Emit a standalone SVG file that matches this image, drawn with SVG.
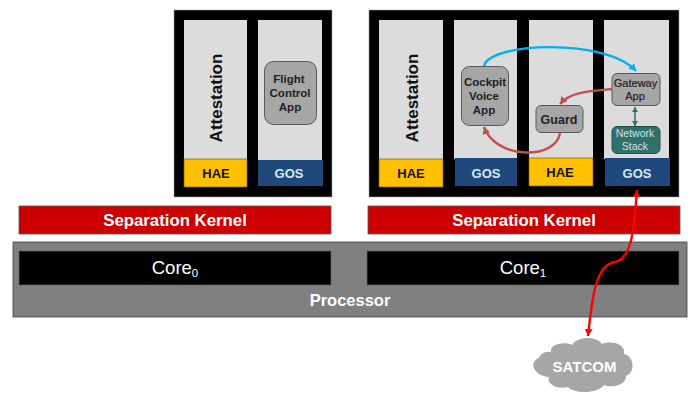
<svg xmlns="http://www.w3.org/2000/svg" width="693" height="394" viewBox="0 0 693 394">
<style>
text{font-family:"Liberation Sans",Arial,sans-serif;text-anchor:middle}
.b{font-weight:700}
.panel{fill:#000;stroke:#a6a6a6;stroke-width:.6}
.col{fill:#dcdcdc}
.hae{fill:#ffc000;stroke:#7f6000;stroke-width:.7}
.gos{fill:#1f497d}
.app{fill:#a6a6a6;stroke:#595959;stroke-width:1}
.sk{fill:#cc0000;stroke:#5a5a5a;stroke-width:.8}
.core{fill:#000;stroke:#6a6a6a;stroke-width:.6}
.c{fill:none;stroke-width:2.4}
</style>
<defs>
<marker id="ab" markerUnits="userSpaceOnUse" markerWidth="9" markerHeight="9" refX="7" refY="4" orient="auto"><path d="M0 0L7 4L0 8Z" fill="#00b0f0"/></marker>
<marker id="ar" markerUnits="userSpaceOnUse" markerWidth="9" markerHeight="9" refX="7" refY="4" orient="auto"><path d="M0 0L7 4L0 8Z" fill="#c0504d"/></marker>
<marker id="at" markerUnits="userSpaceOnUse" markerWidth="7" markerHeight="7" refX="5" refY="3" orient="auto-start-reverse"><path d="M0 0L5 3L0 6Z" fill="#31706d"/></marker>
<marker id="ad" markerUnits="userSpaceOnUse" markerWidth="9" markerHeight="9" refX="7" refY="4" orient="auto-start-reverse"><path d="M0 0L7 4L0 8Z" fill="#ff0000"/></marker>
</defs>
<g id="processor"><rect x="13" y="242" width="674" height="75" fill="#808080" stroke="#404040" stroke-width=".8"/><text class="b" x="350" y="306" font-size="16.500" fill="#fff">Processor</text></g>
<g id="core0"><rect class="core" x="19" y="251" width="312" height="34"/><text x="175" y="274" font-size="18.500" fill="#fff">Core<tspan font-size="11.500" dy="3">0</tspan></text></g>
<g id="core1"><rect class="core" x="367" y="251" width="312" height="34"/><text x="523" y="274" font-size="18.500" fill="#fff">Core<tspan font-size="11.500" dy="3">1</tspan></text></g>
<g id="kernel0"><rect class="sk" x="19" y="206" width="312" height="28"/><text class="b" x="175" y="226" font-size="16.800" fill="#fff">Separation Kernel</text></g>
<g id="kernel1"><rect class="sk" x="368" y="206" width="312" height="28"/><text class="b" x="524" y="226" font-size="16.800" fill="#fff">Separation Kernel</text></g>
<g id="partition-left">
<rect class="panel" x="174" y="10" width="158" height="187"/>
<rect class="col" x="184" y="20" width="63" height="140"/>
<rect class="col" x="258" y="20" width="64" height="141"/>
</g>
<g id="partition-right">
<rect class="panel" x="369" y="10" width="310" height="187"/>
<rect class="col" x="379" y="20" width="64" height="140"/>
<rect class="col" x="454" y="20" width="63" height="139"/>
<rect class="col" x="529" y="20" width="64" height="139"/>
<rect class="col" x="604" y="20" width="65" height="139"/>
</g>
<g id="attestation-left"><text class="b" transform="translate(222,98) rotate(-90)" font-size="17" fill="#111">Attestation</text></g>
<g id="attestation-right"><text class="b" transform="translate(418,98) rotate(-90)" font-size="17" fill="#111">Attestation</text></g>
<g id="hae-left"><rect class="hae" x="184" y="159" width="63" height="28"/><text class="b" x="216" y="178" font-size="13" fill="#111">HAE</text></g>
<g id="gos-left"><rect class="gos" x="258" y="160" width="65" height="26"/><text class="b" x="289" y="178" font-size="13" fill="#dce6f1">GOS</text></g>
<g id="hae-1"><rect class="hae" x="379" y="159" width="64" height="28"/><text class="b" x="411" y="178" font-size="13" fill="#111">HAE</text></g>
<g id="gos-1"><rect class="gos" x="455" y="158" width="62" height="28"/><text class="b" x="486" y="178" font-size="13" fill="#dce6f1">GOS</text></g>
<g id="hae-2"><rect class="hae" x="529" y="158" width="64" height="28"/><text class="b" x="560" y="177" font-size="13" fill="#111">HAE</text></g>
<g id="gos-2"><rect class="gos" x="605" y="158" width="65" height="28"/><text class="b" x="637" y="178" font-size="13" fill="#dce6f1">GOS</text></g>
<g id="flight-app"><rect class="app" x="264.500" y="61.500" width="52" height="63" rx="9"/><text class="b" font-size="11.500" fill="#222"><tspan x="289" y="83">Flight</tspan><tspan x="290" y="97">Control</tspan><tspan x="290" y="111">App</tspan></text></g>
<g id="cockpit-app"><rect class="app" x="461.500" y="66.500" width="47" height="59" rx="8"/><text class="b" font-size="11.500" fill="#222"><tspan x="485" y="86">Cockpit</tspan><tspan x="484" y="100">Voice</tspan><tspan x="484" y="114">App</tspan></text></g>
<g id="guard"><rect class="app" x="536" y="105.500" width="47" height="27" rx="5"/><text class="b" x="559" y="124" font-size="12.500" fill="#222">Guard</text></g>
<g id="gateway-app"><rect class="app" x="612" y="73.500" width="48" height="32" rx="5"/><text font-size="11" fill="#222" stroke="#222" stroke-width=".2"><tspan x="635.500" y="87">Gateway</tspan><tspan x="635" y="100">App</tspan></text></g>
<g id="network-stack"><rect x="612" y="126.500" width="48" height="27" rx="5" fill="#31706d" stroke="#1f4f4d"/><text font-size="10.500" fill="#cfe3e2"><tspan x="635" y="137">Network</tspan><tspan x="635" y="150">Stack</tspan></text></g>
<g id="satcom"><path d="M551 352C549 344 566 341 572 345C578 336 596 336 602 344C612 340 626 344 624 354C634 356 636 372 626 376C626 386 610 388 604 385C598 394 574 394 568 387C558 390 546 384 549 377C534 376 528 362 539 358C540 354 546 351 551 352Z" fill="#a6a6a6"/><text class="b" x="584.500" y="372" font-size="15" fill="#fff">SATCOM</text></g>
<g id="connectors">
<path class="c" d="M484 66C490 42 606 38 636 71" stroke="#00b0f0" marker-end="url(#ab)"/>
<path class="c" d="M612 89C590 91 570 92 560 104" stroke="#c0504d" marker-end="url(#ar)"/>
<path class="c" d="M560 133C556 160 496 160 484 127" stroke="#c0504d" marker-end="url(#ar)"/>
<path d="M635 107V126" fill="none" stroke="#31706d" stroke-width="1.500" marker-start="url(#at)" marker-end="url(#at)"/>
<path class="c" d="M637 190C634 230 632 258 615 262C595 265 592 300 588 336" stroke="#ff0000" marker-start="url(#ad)" marker-end="url(#ad)"/>
</g>
</svg>
